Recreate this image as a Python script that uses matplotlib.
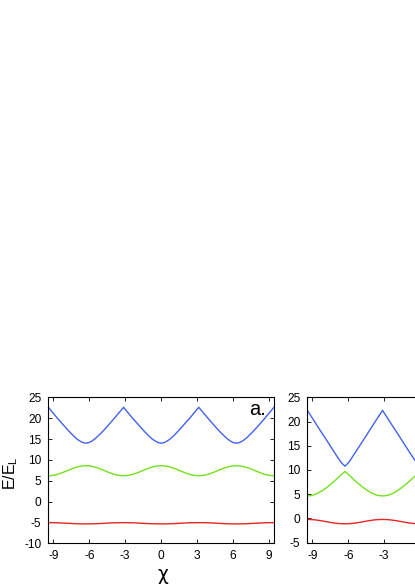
import matplotlib
matplotlib.use('Agg')
import matplotlib.pyplot as plt

plt.rcParams['font.family'] = ['Liberation Sans', 'DejaVu Sans']
plt.rcParams['mathtext.default'] = 'regular'
plt.rcParams['axes.unicode_minus'] = False

# --- data (chi in steps of pi/12 from -3pi to 3pi) ---
chi = [-9.42, -9.16, -8.90, -8.64, -8.38, -8.12, -7.85, -7.59, -7.33, -7.07, -6.81, -6.54, -6.28,
       -6.02, -5.76, -5.50, -5.24, -4.97, -4.71, -4.45, -4.19, -3.93, -3.67, -3.40, -3.14,
       -2.88, -2.62, -2.36, -2.09, -1.83, -1.57, -1.31, -1.05, -0.79, -0.52, -0.26, 0.00,
       0.26, 0.52, 0.79, 1.05, 1.31, 1.57, 1.83, 2.09, 2.36, 2.62, 2.88, 3.14,
       3.40, 3.67, 3.93, 4.19, 4.45, 4.71, 4.97, 5.24, 5.50, 5.76, 6.02, 6.28,
       6.54, 6.81, 7.07, 7.33, 7.59, 7.85, 8.12, 8.38, 8.64, 8.90, 9.16, 9.42]

# panel a.
blue_a = [22.6, 21.7, 20.8, 19.9, 19.05, 18.2, 17.35, 16.55, 15.8, 15.1, 14.55, 14.15, 14.0,
          14.15, 14.55, 15.1, 15.8, 16.55, 17.35, 18.2, 19.05, 19.9, 20.8, 21.7, 22.6,
          21.7, 20.8, 19.9, 19.05, 18.2, 17.35, 16.55, 15.8, 15.1, 14.55, 14.15, 14.0,
          14.15, 14.55, 15.1, 15.8, 16.55, 17.35, 18.2, 19.05, 19.9, 20.8, 21.7, 22.6,
          21.7, 20.8, 19.9, 19.05, 18.2, 17.35, 16.55, 15.8, 15.1, 14.55, 14.15, 14.0,
          14.15, 14.55, 15.1, 15.8, 16.55, 17.35, 18.2, 19.05, 19.9, 20.8, 21.7, 22.6]
green_a = [6.2, 6.24, 6.36, 6.55, 6.8, 7.09, 7.4, 7.71, 8.0, 8.25, 8.44, 8.56, 8.6,
           8.56, 8.44, 8.25, 8.0, 7.71, 7.4, 7.09, 6.8, 6.55, 6.36, 6.24, 6.2,
           6.24, 6.36, 6.55, 6.8, 7.09, 7.4, 7.71, 8.0, 8.25, 8.44, 8.56, 8.6,
           8.56, 8.44, 8.25, 8.0, 7.71, 7.4, 7.09, 6.8, 6.55, 6.36, 6.24, 6.2,
           6.24, 6.36, 6.55, 6.8, 7.09, 7.4, 7.71, 8.0, 8.25, 8.44, 8.56, 8.6,
           8.56, 8.44, 8.25, 8.0, 7.71, 7.4, 7.09, 6.8, 6.55, 6.36, 6.24, 6.2]
red_a = [-5.05, -5.06, -5.07, -5.09, -5.12, -5.16, -5.2, -5.24, -5.28, -5.31, -5.33, -5.34, -5.35,
         -5.34, -5.33, -5.31, -5.28, -5.24, -5.2, -5.16, -5.12, -5.09, -5.07, -5.06, -5.05,
         -5.06, -5.07, -5.09, -5.12, -5.16, -5.2, -5.24, -5.28, -5.31, -5.33, -5.34, -5.35,
         -5.34, -5.33, -5.31, -5.28, -5.24, -5.2, -5.16, -5.12, -5.09, -5.07, -5.06, -5.05,
         -5.06, -5.07, -5.09, -5.12, -5.16, -5.2, -5.24, -5.28, -5.31, -5.33, -5.34, -5.35,
         -5.34, -5.33, -5.31, -5.28, -5.24, -5.2, -5.16, -5.12, -5.09, -5.07, -5.06, -5.05]

# second panel (cut off at the right edge of the figure)
blue_b = [22.3, 21.3, 20.3, 19.3, 18.3, 17.3, 16.3, 15.3, 14.3, 13.3, 12.3, 11.4, 10.8,
          11.4, 12.3, 13.3, 14.3, 15.3, 16.3, 17.3, 18.3, 19.3, 20.3, 21.3, 22.3,
          21.3, 20.3, 19.3, 18.3, 17.3, 16.3, 15.3, 14.3, 13.3, 12.3, 11.4, 10.8,
          11.4, 12.3, 13.3, 14.3, 15.3, 16.3, 17.3, 18.3, 19.3, 20.3, 21.3, 22.3,
          21.3, 20.3, 19.3, 18.3, 17.3, 16.3, 15.3, 14.3, 13.3, 12.3, 11.4, 10.8,
          11.4, 12.3, 13.3, 14.3, 15.3, 16.3, 17.3, 18.3, 19.3, 20.3, 21.3, 22.3]
green_b = [4.65, 4.7, 4.85, 5.1, 5.45, 5.85, 6.3, 6.8, 7.35, 7.9, 8.55, 9.15, 9.7,
           9.15, 8.55, 7.9, 7.35, 6.8, 6.3, 5.85, 5.45, 5.1, 4.85, 4.7, 4.65,
           4.7, 4.85, 5.1, 5.45, 5.85, 6.3, 6.8, 7.35, 7.9, 8.55, 9.15, 9.7,
           9.15, 8.55, 7.9, 7.35, 6.8, 6.3, 5.85, 5.45, 5.1, 4.85, 4.7, 4.65,
           4.7, 4.85, 5.1, 5.45, 5.85, 6.3, 6.8, 7.35, 7.9, 8.55, 9.15, 9.7,
           9.15, 8.55, 7.9, 7.35, 6.8, 6.3, 5.85, 5.45, 5.1, 4.85, 4.7, 4.65]
red_b = [-0.2, -0.22, -0.26, -0.33, -0.43, -0.53, -0.65, -0.77, -0.88, -0.97, -1.04, -1.08, -1.1,
         -1.08, -1.04, -0.97, -0.88, -0.77, -0.65, -0.53, -0.43, -0.33, -0.26, -0.22, -0.2,
         -0.22, -0.26, -0.33, -0.43, -0.53, -0.65, -0.77, -0.88, -0.97, -1.04, -1.08, -1.1,
         -1.08, -1.04, -0.97, -0.88, -0.77, -0.65, -0.53, -0.43, -0.33, -0.26, -0.22, -0.2,
         -0.22, -0.26, -0.33, -0.43, -0.53, -0.65, -0.77, -0.88, -0.97, -1.04, -1.08, -1.1,
         -1.08, -1.04, -0.97, -0.88, -0.77, -0.65, -0.53, -0.43, -0.33, -0.26, -0.22, -0.2]

xticks = [-9, -6, -3, 0, 3, 6, 9]
xlabels_b = ['-9', '-6', '-3', '', '', '', '']   # the rest falls outside the figure
yticks_a = [-10, -5, 0, 5, 10, 15, 20, 25]
yticks_b = [-5, 0, 5, 10, 15, 20, 25]

c_blue, c_green, c_red = '#4262ee', '#74e01c', '#e82424'

W, H = 415, 587
fig = plt.figure(figsize=(W / 100, H / 100), dpi=100)

def px_axes(x0, x1, ytop, ybot):
    return fig.add_axes([x0 / W, 1 - ybot / H, (x1 - x0) / W, (ybot - ytop) / H])

def style(ax, yticks, ylim):
    ax.set_xlim(-9.4248, 9.4248)
    ax.set_ylim(*ylim)
    ax.set_xticks(xticks)
    ax.set_yticks(yticks)
    ax.tick_params(direction='in', top=True, right=True, length=3, width=0.6,
                   labelsize=8.6, pad=5, colors='black')
    for s in ax.spines.values():
        s.set_linewidth(0.8)

ax1 = px_axes(48.3, 274.0, 397.3, 543.3)
ax1.plot(chi, blue_a, color=c_blue, lw=1.0)
ax1.plot(chi, green_a, color=c_green, lw=1.0)
ax1.plot(chi, red_a, color=c_red, lw=1.0)
style(ax1, yticks_a, (-10, 25))
ax1.text(0.965, 0.98, 'a.', transform=ax1.transAxes, ha='right', va='top', fontsize=14.5)

# right panel runs past the edge of the figure
ax2 = px_axes(307.3, 533.0, 397.3, 542.7)
ax2.plot(chi, blue_b, color=c_blue, lw=1.0)
ax2.plot(chi, green_b, color=c_green, lw=1.0)
ax2.plot(chi, red_b, color=c_red, lw=1.0)
style(ax2, yticks_b, (-5, 25))
ax2.set_xticklabels(xlabels_b)

fig.text(0.004, 1 - 473 / H, 'E/E$_{L}$', rotation=90, ha='left', va='center', fontsize=11.5)
fig.text(163 / W, 1 - 574 / H, 'χ', ha='center', va='center', fontsize=13.5,
         family='DejaVu Sans')

fig.savefig('out.png', dpi=100)
